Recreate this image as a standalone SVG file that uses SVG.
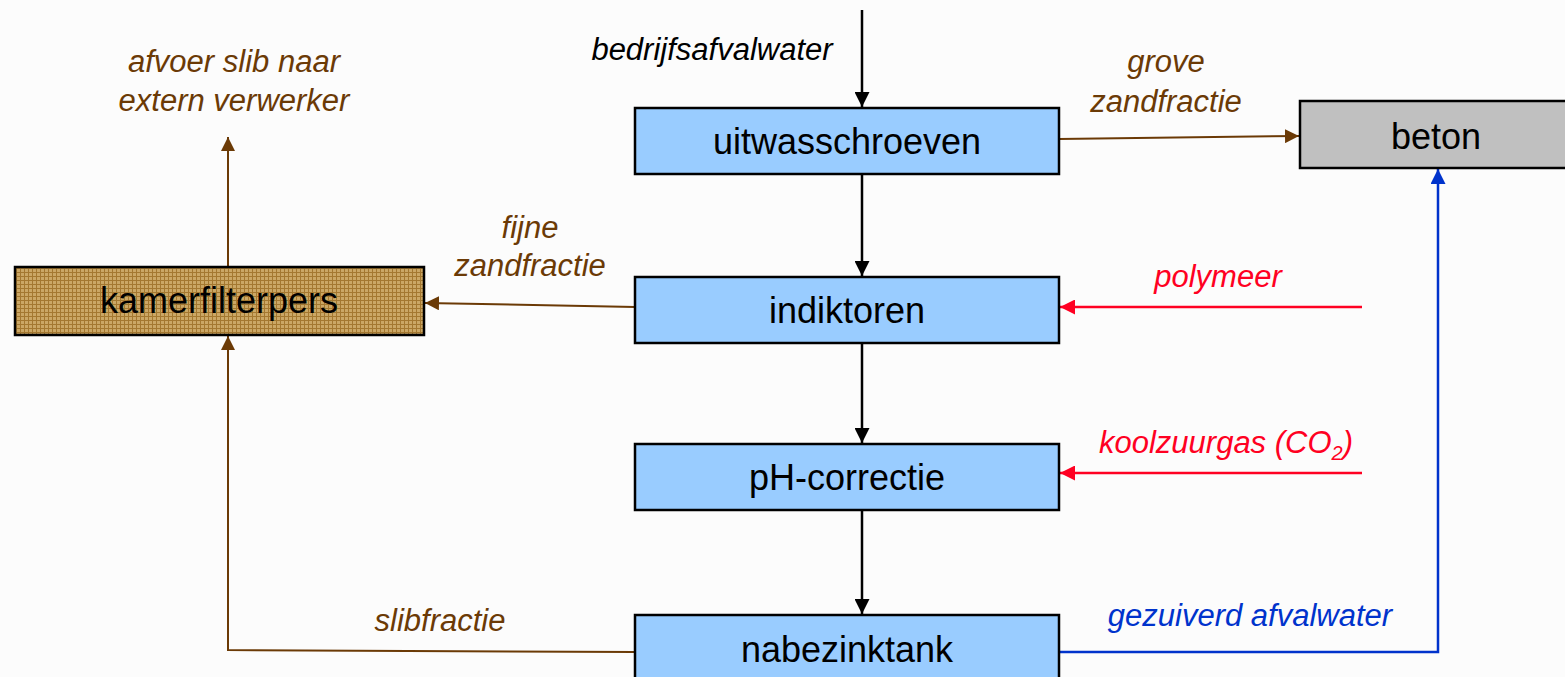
<svg xmlns="http://www.w3.org/2000/svg" width="1565" height="677" viewBox="0 0 1565 677">
<defs>
<style>
.box{stroke:#000;stroke-width:2.5}
.blue{fill:#99CCFF}
.nt{font-family:"Liberation Sans",Arial,sans-serif;font-size:36px;fill:#000;text-anchor:middle}
.lbl{font-family:"Liberation Sans",Arial,sans-serif;font-size:31px;font-style:italic;text-anchor:middle}
.k{stroke:#000;stroke-width:2.5;fill:none}
.br{stroke:#6B3A06;stroke-width:2;fill:none}
.rd{stroke:#FF0022;stroke-width:2.5;fill:none}
.bl{stroke:#0033CC;stroke-width:2.5;fill:none}
</style>
<marker id="ak" viewBox="0 0 10 10" refX="10" refY="5" markerWidth="6" markerHeight="6" orient="auto" markerUnits="strokeWidth"><path d="M0,0L10,5L0,10z" fill="#000"/></marker>
<marker id="ab" viewBox="0 0 10 10" refX="10" refY="5" markerWidth="7" markerHeight="7" orient="auto" markerUnits="strokeWidth"><path d="M0,0L10,5L0,10z" fill="#6B3A06"/></marker>
<marker id="ar" viewBox="0 0 10 10" refX="10" refY="5" markerWidth="6" markerHeight="6" orient="auto" markerUnits="strokeWidth"><path d="M0,0L10,5L0,10z" fill="#FF0022"/></marker>
<marker id="abl" viewBox="0 0 10 10" refX="10" refY="5" markerWidth="6" markerHeight="6" orient="auto" markerUnits="strokeWidth"><path d="M0,0L10,5L0,10z" fill="#0033CC"/></marker>
<pattern id="grid" width="4" height="4" patternUnits="userSpaceOnUse">
<rect width="4" height="4" fill="#CBA765"/>
<path d="M0,0.5H4M0.5,0V4" stroke="#A47830" stroke-width="1"/>
</pattern>
</defs>
<rect width="1565" height="677" fill="#FCFCFC"/>
<g id="connectors">
<line class="k" x1="862" y1="10" x2="862" y2="107" marker-end="url(#ak)"/>
<line class="k" x1="862" y1="174" x2="862" y2="276" marker-end="url(#ak)"/>
<line class="k" x1="862" y1="343" x2="862" y2="443" marker-end="url(#ak)"/>
<line class="k" x1="862" y1="510" x2="862" y2="614" marker-end="url(#ak)"/>
<line class="br" x1="1059" y1="139" x2="1299" y2="136" marker-end="url(#ab)"/>
<line class="br" x1="635" y1="307" x2="425" y2="303" marker-end="url(#ab)"/>
<line class="br" x1="228" y1="267" x2="228" y2="137" marker-end="url(#ab)"/>
<polyline class="br" points="635,652 228,650 228,336" marker-end="url(#ab)"/>
<line class="rd" x1="1362" y1="307" x2="1060" y2="307" marker-end="url(#ar)"/>
<line class="rd" x1="1362" y1="473" x2="1060" y2="473" marker-end="url(#ar)"/>
<polyline class="bl" points="1059,652 1438,652 1438,169" marker-end="url(#abl)"/>
</g>
<g id="uitwasschroeven"><rect class="box blue" x="635" y="108" width="424" height="66"/><text class="nt" x="847" y="154">uitwasschroeven</text></g>
<g id="indiktoren"><rect class="box blue" x="635" y="277" width="424" height="66"/><text class="nt" x="847" y="323">indiktoren</text></g>
<g id="ph-correctie"><rect class="box blue" x="635" y="444" width="424" height="66"/><text class="nt" x="847" y="490">pH-correctie</text></g>
<g id="nabezinktank"><rect class="box blue" x="635" y="615" width="424" height="70"/><text class="nt" x="847" y="662">nabezinktank</text></g>
<g id="beton"><rect class="box" fill="#C0C0C0" x="1300" y="101" width="268" height="67"/><text class="nt" x="1436" y="149">beton</text></g>
<g id="kamerfilterpers"><rect class="box" fill="url(#grid)" x="15" y="267" width="409" height="68"/><text class="nt" x="219" y="313">kamerfilterpers</text></g>
<g id="labels">
<text class="lbl" x="712" y="60" fill="#000">bedrijfsafvalwater</text>
<text class="lbl" x="234" y="72" fill="#6B3A06">afvoer slib naar</text>
<text class="lbl" x="234" y="111" fill="#6B3A06">extern verwerker</text>
<text class="lbl" x="1166" y="72" fill="#6B3A06">grove</text>
<text class="lbl" x="1166" y="112" fill="#6B3A06">zandfractie</text>
<text class="lbl" x="530" y="238" fill="#6B3A06">fijne</text>
<text class="lbl" x="530" y="276" fill="#6B3A06">zandfractie</text>
<text class="lbl" x="1218" y="287" fill="#FF0022">polymeer</text>
<text class="lbl" x="1226" y="453" fill="#FF0022">koolzuurgas (CO<tspan font-size="20" dy="7">2</tspan><tspan dy="-7">)</tspan></text>
<text class="lbl" x="440" y="631" fill="#6B3A06">slibfractie</text>
<text class="lbl" x="1250" y="626" fill="#0033CC">gezuiverd afvalwater</text>
</g>
</svg>
